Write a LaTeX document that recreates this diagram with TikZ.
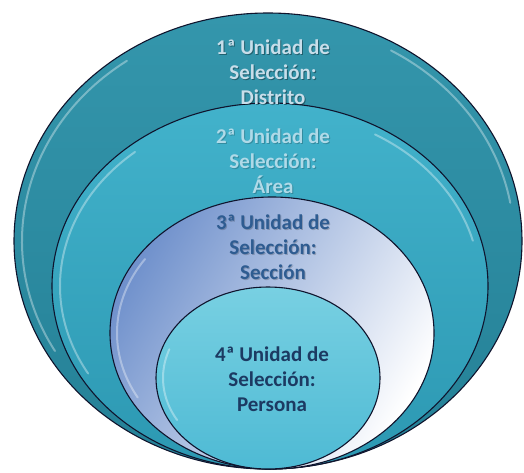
\documentclass[tikz,border=0pt]{standalone}
\usepackage{fontspec}
\setmainfont{Carlito}
\definecolor{ringAtop}{RGB}{52,150,172}
\definecolor{ringAbot}{RGB}{36,128,150}
\definecolor{ringBtop}{RGB}{66,178,203}
\definecolor{ringBbot}{RGB}{44,152,178}
\definecolor{ringCdark}{RGB}{112,145,204}
\definecolor{ringDtop}{RGB}{120,208,226}
\definecolor{ringDbot}{RGB}{78,186,212}
\definecolor{txtA}{RGB}{200,222,234}
\definecolor{txtB}{RGB}{176,218,232}
\definecolor{txtC}{RGB}{46,92,145}
\definecolor{txtD}{RGB}{28,58,98}
\definecolor{edge}{RGB}{15,20,45}
\begin{document}
\begin{tikzpicture}[x=1pt,y=-1pt,
  ring/.style={draw=edge, line width=1.1pt},
  gloss/.style={draw=white, line width=2pt, opacity=0.35, line cap=round},
  lbl/.style={font=\bfseries\fontsize{21}{25}\selectfont, align=center, inner sep=0pt},
  shad/.style={lbl, text=black, opacity=0.35}]
\useasboundingbox (0,0) rectangle (524,472);
\fill[white] (0,0) rectangle (524,472);
% ring 1
\shade[ring, top color=ringAtop, bottom color=ringAbot]
  (268,241) ellipse [x radius=254, y radius=228];
\draw[gloss] (268,241) ++(150:246 and 220) arc[start angle=150, end angle=235, x radius=246, y radius=220];
\draw[gloss] (268,241) ++(-10:246 and 220) arc[start angle=-10, end angle=-60, x radius=246, y radius=220];
% ring 2
\shade[ring, top color=ringBtop, bottom color=ringBbot]
  (270,286) ellipse [x radius=218, y radius=183];
\draw[gloss] (270,286) ++(150:210 and 175) arc[start angle=150, end angle=230, x radius=210, y radius=175];
\draw[gloss] (270,286) ++(-15:210 and 175) arc[start angle=-15, end angle=-60, x radius=210, y radius=175];
% ring 3
\shade[ring, left color=white, right color=ringCdark, shading angle=-120]
  (272,333) ellipse [x radius=162, y radius=136];
\draw[gloss] (272,333) ++(150:155 and 129) arc[start angle=150, end angle=215, x radius=155, y radius=129];
% ring 4
\shade[ring, top color=ringDtop, bottom color=ringDbot]
  (268,378) ellipse [x radius=112, y radius=91];
\draw[gloss] (268,378) ++(150:105 and 84) arc[start angle=150, end angle=200, x radius=105, y radius=84];
% labels
\node[shad] (s1) at (274,73) {1ª Unidad de\\Selección:\\Distrito};
\node[lbl, text=txtA] (t1) at (273,72) {1ª Unidad de\\Selección:\\Distrito};
\node[shad, opacity=0.2] (s2) at (274,162) {2ª Unidad de\\Selección:\\Área};
\node[lbl, text=txtB] (t2) at (273,161) {2ª Unidad de\\Selección:\\Área};
\node[shad, opacity=0.2] (s3) at (274,248) {3ª Unidad de\\Selección:\\Sección};
\node[lbl, text=txtC] (t3) at (273,247) {3ª Unidad de\\Selección:\\Sección};
\node[lbl, text=txtD] (t4) at (272,379) {4ª Unidad de\\Selección:\\Persona};
\end{tikzpicture}
\end{document}
